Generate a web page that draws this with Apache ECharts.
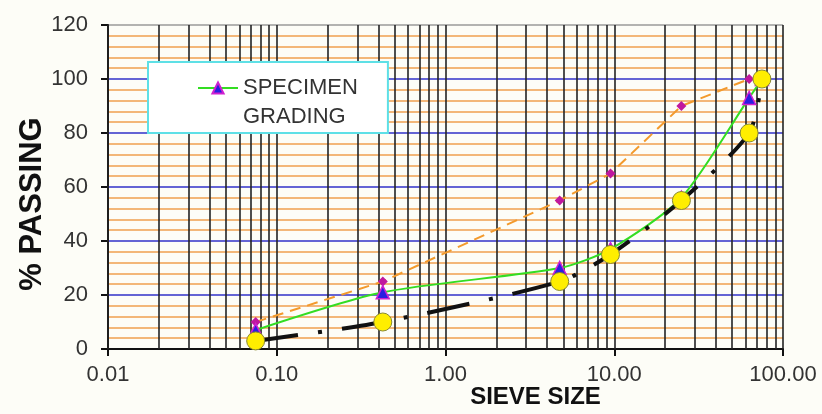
<!DOCTYPE html>
<html>
<head>
<meta charset="utf-8">
<script src="https://cdn.jsdelivr.net/npm/echarts@6/dist/echarts.min.js"></script>
<style>
  html, body { margin: 0; padding: 0; background: #fdfdf7; }
  #chart { width: 822px; height: 414px; }
</style>
</head>
<body>
<div id="chart"></div>
<script>
// sieve sizes (mm) and % passing
const sieveSizes = [0.075, 0.425, 4.75, 9.5, 25, 63, 75]
const upperLimit = [10, 25, 55, 65, 90, 100, 100]
const specimen = [7, 21, 30, 37, 56, 93, 100]
const lowerLimit = [3, 10, 25, 35, 55, 80, 100]
const xTicks = [0.01, 0.1, 1, 10, 100]
const yTicks = [0, 20, 40, 60, 80, 100, 120]
// log grid: 1..9 within each decade
const decades = [0.01, 0.1, 1, 10]
const multipliers = [1, 2, 3, 4, 5, 6, 7, 8, 9]
const gridValues = decades.flatMap((d) => multipliers.map((m) => d * m)).concat([100])

const pairs = (ys) => sieveSizes.map((x, i) => [x, ys[i]])

const chart = echarts.init(document.getElementById('chart'))
const font = 'Liberation Sans, Arial, sans-serif'
const hidden = { opacity: 0 }

chart.setOption({
  animation: false,
  backgroundColor: '#fdfdf7',
  grid: { left: 108, right: 39, top: 25, bottom: 65, outerBoundsMode: 'none' },
  legend: {
    // legend name wraps onto a second, icon-less row like the original
    data: [
      { name: 'SPECIMEN' },
      { name: 'GRADING', itemStyle: hidden, lineStyle: hidden },
    ],
    z: 10,
    left: 148,
    top: 62,
    orient: 'vertical',
    itemWidth: 40,
    itemHeight: 14,
    itemGap: 7,
    padding: [15, 30, 5, 49],
    backgroundColor: '#ffffff',
    borderColor: '#5ee0e6',
    borderWidth: 2,
    borderRadius: 0,
    textStyle: {
      fontFamily: font,
      fontSize: 22,
      lineHeight: 22,
      color: '#333',
    },
  },
  xAxis: {
    type: 'log',
    logBase: 10,
    min: xTicks[0],
    max: xTicks[xTicks.length - 1],
    interval: 1,
    name: 'SIEVE SIZE',
    nameLocation: 'middle',
    nameGap: 36,
    nameMoveOverlap: false,
    nameTextStyle: {
      fontFamily: font,
      fontSize: 24,
      fontWeight: 'bold',
      color: '#111',
      padding: [0, 0, 0, 180],
    },
    axisLine: { lineStyle: { color: '#111', width: 2 } },
    axisTick: { show: true, length: 7, lineStyle: { color: '#111', width: 2 } },
    axisLabel: {
      fontFamily: font,
      fontSize: 22,
      color: '#333',
      margin: 15,
      formatter: (v) => Number(v).toFixed(2),
    },
    splitLine: { show: false },
  },
  yAxis: {
    type: 'value',
    min: yTicks[0],
    max: yTicks[yTicks.length - 1],
    interval: 20,
    name: '% PASSING',
    nameLocation: 'middle',
    nameGap: 60,
    nameMoveOverlap: false,
    nameTextStyle: {
      fontFamily: font,
      fontSize: 31,
      fontWeight: 'bold',
      color: '#111',
      padding: [0, 34, 0, 0],
    },
    axisLine: { show: true, lineStyle: { color: '#111', width: 2 } },
    axisTick: { show: true, length: 7, lineStyle: { color: '#111', width: 2 } },
    axisLabel: { fontFamily: font, fontSize: 22, color: '#333', margin: 20 },
    splitLine: {
      show: true,
      lineStyle: {
        color: ['#111', '#3030c8', '#3030c8', '#3030c8', '#3030c8', '#3030c8', '#9a9a9a'],
        width: 1.5,
      },
    },
    minorTick: { show: false, splitNumber: 5 },
    minorSplitLine: { show: true, lineStyle: { color: '#f0a050', width: 1.5 } },
  },
  series: [
    {
      name: 'grid',
      type: 'line',
      data: [],
      silent: true,
      markLine: {
        z: 1,
        silent: true,
        symbol: 'none',
        label: { show: false },
        lineStyle: { color: '#222', type: 'solid', width: 1.6 },
        data: gridValues.map((v) => ({ xAxis: v })),
      },
    },
    {
      name: 'UPPER LIMIT',
      type: 'line',
      data: pairs(upperLimit),
      symbol: 'diamond',
      symbolSize: 10,
      itemStyle: { color: '#c0189e' },
      lineStyle: { color: '#f39a2c', width: 2, type: [11, 7] },
    },
    {
      name: 'SPECIMEN',
      type: 'line',
      data: pairs(specimen),
      smooth: 0.25,
      symbol: 'triangle',
      symbolSize: 13,
      itemStyle: { color: '#2a1ee0', borderColor: '#d020d0', borderWidth: 1.5 },
      lineStyle: { color: '#33dd22', width: 2 },
    },
    {
      name: 'GRADING',
      type: 'line',
      data: [],
      symbol: 'none',
      lineStyle: hidden,
    },
    {
      name: 'LOWER LIMIT',
      type: 'line',
      data: pairs(lowerLimit),
      smooth: 0.25,
      symbol: 'circle',
      symbolSize: 18,
      itemStyle: { color: '#ffee00', borderColor: '#8a8a30', borderWidth: 1 },
      lineStyle: { color: '#111', width: 4, type: [43, 20, 4, 20] },
    },
  ],
})
</script>
</body>
</html>
